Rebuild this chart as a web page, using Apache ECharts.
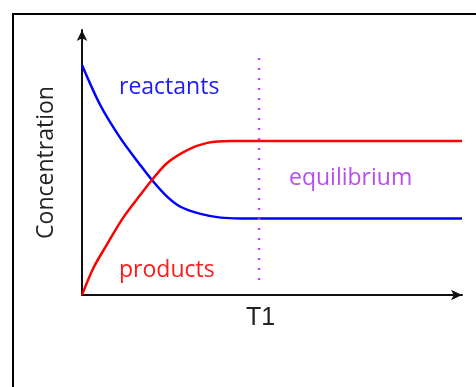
<!DOCTYPE html>
<html>
<head>
<meta charset="utf-8">
<script src="https://cdn.jsdelivr.net/npm/echarts@6/dist/echarts.min.js"></script>
<style>
  html, body { margin: 0; padding: 0; background: #fff; }
  #main { width: 476px; height: 387px; }
</style>
</head>
<body>
<div id="main"></div>
<script>
// time (arbitrary units) and concentrations
var reactantsData = [[0, 8.68], [0.48, 7.17], [1.01, 5.92], [1.53, 4.91], [1.84, 4.34], [2.24, 3.71], [2.59, 3.33], [3.12, 3.06], [3.65, 2.92], [4.18, 2.89], [10, 2.89]];
var productsData = [[0, 0], [0.3, 1.02], [0.65, 1.89], [1.08, 2.91], [1.53, 3.77], [1.84, 4.34], [2.24, 4.98], [2.77, 5.47], [3.3, 5.74], [3.92, 5.81], [10, 5.81]];
var equilibriumLine = [[4.66, 0.57], [4.66, 9.25]];
var yName = 'Concentration';
var xName = 'T1';
var annotations = ['reactants', 'products', 'equilibrium'];

var myChart = echarts.init(document.getElementById('main'));

var option = {
    animation: false,
    backgroundColor: '#fff',
    grid: { left: 82, right: 14, top: 30, bottom: 92 },
    xAxis: {
        type: 'value',
        min: 0,
        max: 10,
        axisLine: {
            symbol: ['none', 'arrow'],
            symbolSize: [8, 11],
            lineStyle: { color: '#111', width: 2 }
        },
        axisTick: { show: false },
        axisLabel: { show: false },
        splitLine: { show: false }
    },
    yAxis: {
        type: 'value',
        min: 0,
        max: 10,
        name: yName,
        nameLocation: 'middle',
        nameRotate: 90,
        nameGap: 24,
        nameTextStyle: { fontFamily: 'Open Sans', fontSize: 23, color: '#222' },
        axisLine: {
            show: true,
            symbol: ['none', 'arrow'],
            symbolSize: [8, 11],
            lineStyle: { color: '#111', width: 2 }
        },
        axisTick: { show: false },
        axisLabel: { show: false },
        splitLine: { show: false }
    },
    series: [
        {
            name: 'reactants',
            type: 'line',
            data: reactantsData,
            smooth: 0.3,
            showSymbol: false,
            lineStyle: { color: '#0000ff', width: 2.5 }
        },
        {
            name: 'products',
            type: 'line',
            data: productsData,
            smooth: 0.3,
            showSymbol: false,
            lineStyle: { color: '#ff0000', width: 2.5 }
        },
        {
            name: 'equilibrium',
            type: 'line',
            data: equilibriumLine,
            showSymbol: false,
            lineStyle: { color: '#b84cf0', width: 2.5, type: [2, 8] }
        }
    ],
    graphic: [
        {
            type: 'rect',
            shape: { x: 13, y: 14, width: 520, height: 420 },
            style: { fill: 'none', stroke: '#000', lineWidth: 2 }
        },
        {
            type: 'text', left: 119, top: 76,
            style: { text: annotations[0], fill: '#1a1aff', font: '23px "Open Sans"' }
        },
        {
            type: 'text', left: 119, top: 259,
            style: { text: annotations[1], fill: '#ff1a1a', font: '23px "Open Sans"' }
        },
        {
            type: 'text', left: 289, top: 167,
            style: { text: annotations[2], fill: '#b84cf0', font: '23px "Open Sans"' }
        },
        {
            type: 'text', left: 246, top: 306,
            style: { text: xName, fill: '#222', font: '25px "Liberation Sans"' }
        }
    ]
};

if (option)
    myChart.setOption(option);
</script>
</body>
</html>
